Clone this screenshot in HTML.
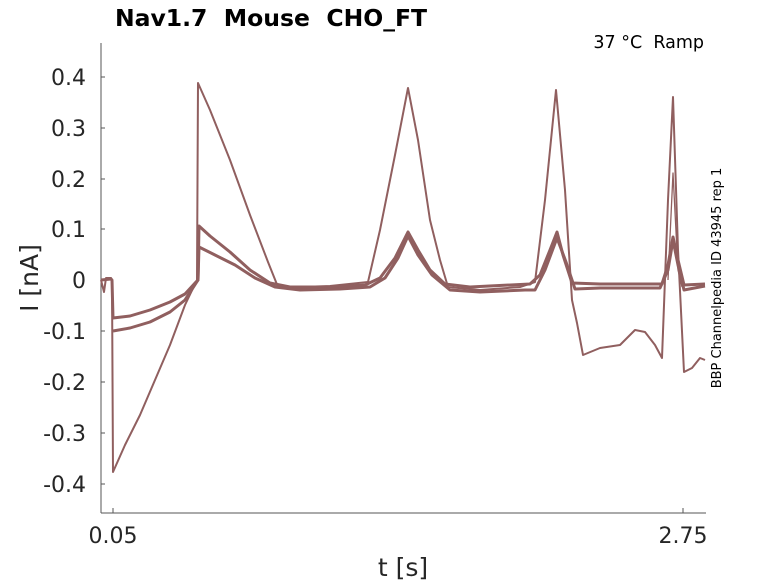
<!DOCTYPE html>
<html><head><meta charset="utf-8"><style>
body{margin:0;background:#fff;}
svg{display:block;font-family:"DejaVu Sans","Liberation Sans",sans-serif;}
text{white-space:pre;}
</style></head><body>
<svg width="778" height="583" viewBox="0 0 778 583" xmlns="http://www.w3.org/2000/svg">
<g stroke="#555" stroke-width="1" fill="none">
<line x1="101" y1="43" x2="101" y2="513"/>
<line x1="101" y1="513" x2="706" y2="513"/>
<line x1="101" y1="77" x2="105" y2="77"/>
<line x1="101" y1="128" x2="105" y2="128"/>
<line x1="101" y1="179" x2="105" y2="179"/>
<line x1="101" y1="229" x2="105" y2="229"/>
<line x1="101" y1="280" x2="105" y2="280"/>
<line x1="101" y1="331" x2="105" y2="331"/>
<line x1="101" y1="382" x2="105" y2="382"/>
<line x1="101" y1="433" x2="105" y2="433"/>
<line x1="101" y1="484" x2="105" y2="484"/>
<line x1="113" y1="513" x2="113" y2="508"/>
<line x1="683" y1="513" x2="683" y2="508"/>
</g>
<g fill="#262626" font-size="22" text-anchor="end">
<text x="86" y="85">0.4</text><text x="86" y="136">0.3</text><text x="86" y="187">0.2</text>
<text x="86" y="237">0.1</text><text x="86" y="288">0</text><text x="86" y="339">-0.1</text>
<text x="86" y="390">-0.2</text><text x="86" y="441">-0.3</text><text x="86" y="492">-0.4</text>
</g>
<g fill="#262626" font-size="22" text-anchor="middle">
<text x="113" y="543">0.05</text><text x="683" y="543">2.75</text>
<text x="403" y="576" font-size="25">t [s]</text>
<text transform="translate(38,278) rotate(-90)" font-size="25">I [nA]</text>
</g>
<text x="271" y="26" font-size="23.5" font-weight="bold" text-anchor="middle" fill="#000">Nav1.7  Mouse  CHO_FT</text>
<text x="704" y="48" font-size="17.5" text-anchor="end" fill="#000">37 °C  Ramp</text>
<text transform="translate(721,278) rotate(-90)" font-size="13" text-anchor="middle" fill="#000">BBP Channelpedia ID 43945 rep 1</text>
<g stroke="#905f5f" fill="none" stroke-linejoin="round">
<polyline stroke-width="2" points="101,280 104,292 106,278 111,278 112,280 113,472 125,445 140,415 155,380 170,345 185,305 196,282 197,280 198,83 210,110 230,160 250,215 268,262 278,287 300,287 330,286 368,282 380,230 395,155 408,88 418,140 430,220 440,260 448,287 480,290 520,287 535,282 545,200 556,90 565,190 572,300 577,323 583,355 600,348 620,345 635,330 645,332 655,345 662,358 668,200 673,97 678,250 684,372 692,368 700,358 705,360"/>
<polyline stroke-width="3" points="101,280 111,279 112,280 113,318 130,316 150,310 170,302 185,294 196,282 198,280 199,226 210,236 230,252 250,270 270,283 290,287 330,287 365,285 380,278 395,258 408,232 418,250 430,270 445,284 470,287 530,284 540,275 550,250 557,232 563,255 572,283 600,284 640,284 662,284 668,265 673,237 678,260 684,285 705,284"/>
<polyline stroke-width="3" points="113,331 130,328 150,322 170,312 185,300 196,283 198,280 199,247 215,255 235,265 255,278 275,287 300,290 340,289 370,287 385,278 398,258 408,236 418,255 432,275 450,290 480,292 525,290 535,290 545,270 557,238 566,262 575,289 600,288 660,288 668,270 673,240 678,265 684,290 705,286"/>
<polyline stroke-width="1.3" points="668,280 673,173 678,270 682,287"/>
</g>
</svg>
</body></html>
